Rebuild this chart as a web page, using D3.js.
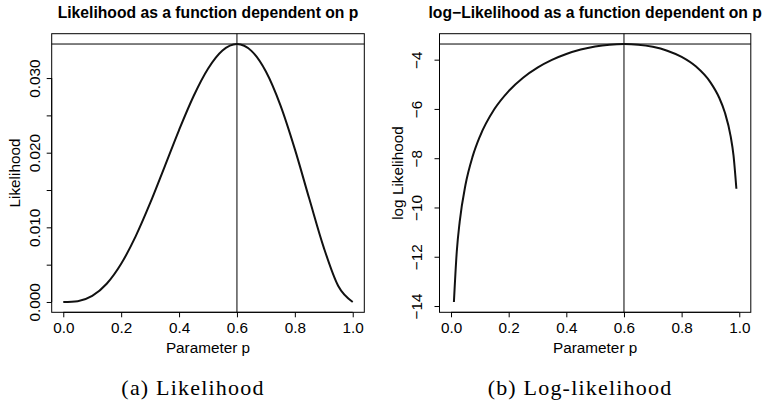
<!DOCTYPE html>
<html>
<head>
<meta charset="utf-8">
<script src="https://cdn.jsdelivr.net/npm/d3@7"></script>
<style>
  html, body { margin: 0; padding: 0; background: #fff; }
  svg { display: block; }
  .sans { font-family: "Liberation Sans", Arial, Helvetica, sans-serif; }
</style>
</head>
<body>
<svg id="chart" width="763" height="406"></svg>
<script>
// ---- data ----
const pLik = [0, 0.05, 0.1, 0.15, 0.2, 0.25, 0.3, 0.35, 0.4, 0.45, 0.5, 0.55, 0.6, 0.65, 0.7, 0.75, 0.8, 0.85, 0.9, 0.95, 1.0];
const likValues = [0, 0.000113, 0.00081, 0.002438, 0.00512, 0.008789, 0.01323, 0.018115, 0.02304, 0.027565, 0.03125, 0.033691, 0.03456, 0.033642, 0.03087, 0.026367, 0.02048, 0.013818, 0.00729, 0.002143, 0];

const pLog = [0.01, 0.02, 0.03, 0.05, 0.075, 0.1, 0.15, 0.2, 0.25, 0.3, 0.35, 0.4, 0.45, 0.5, 0.55, 0.6, 0.65, 0.7, 0.75, 0.8, 0.85, 0.9, 0.93, 0.95, 0.97, 0.98, 0.99];
const logLikValues = [-13.836, -11.777, -10.581, -9.090, -7.927, -7.119, -6.016, -5.275, -4.734, -4.325, -4.011, -3.771, -3.591, -3.466, -3.391, -3.365, -3.392, -3.478, -3.636, -3.888, -4.282, -4.921, -5.536, -6.145, -7.105, -7.885, -9.241];

const xTicks = [0, 0.2, 0.4, 0.6, 0.8, 1.0];
const likTicks = [0, 0.005, 0.01, 0.015, 0.02, 0.025, 0.03];
const likTickLabels = ["0.000", "", "0.010", "", "0.020", "", "0.030"];
const logTicks = [-14, -12, -10, -8, -6, -4];
const logTickLabels = ["\u221214", "\u221212", "\u221210", "\u22128", "\u22126", "\u22124"];

const mlePosition = 0.6;
const titles = ["Likelihood as a function dependent on p", "log\u2212Likelihood as a function dependent on p"];
const yTitles = ["Likelihood", "log Likelihood"];
const xTitle = "Parameter p";
const captions = ["(a) Likelihood", "(b) Log-likelihood"];

// ---- drawing ----
const svg = d3.select("#chart");
const pad = ([a, b]) => { const d = (b - a) * 0.04; return [a - d, b + d]; };

const panels = [
  { px: pLik, py: likValues, ticks: likTicks, labels: likTickLabels,
    x0: 51.7, x1: 364.3, tickLabelX: 40, yTitleX: 19.5, title: titles[0], ytitle: yTitles[0], caption: captions[0], capX: 193 },
  { px: pLog, py: logLikValues, ticks: logTicks, labels: logTickLabels,
    x0: 439.5, x1: 750.8, tickLabelX: 421.5, yTitleX: 403, title: titles[1], ytitle: yTitles[1], caption: captions[1], capX: 580 }
];

const yTop = 33.7, yBot = 312.3;

panels.forEach(P => {
  const g = svg.append("g").attr("class", "sans");
  const x = d3.scaleLinear().domain(pad([0, 1])).range([P.x0, P.x1]);
  const y = d3.scaleLinear().domain(pad(d3.extent(P.py))).range([yBot, yTop]);

  // bottom axis
  const xAxis = d3.axisBottom(x).tickValues(xTicks).tickSize(5).tickPadding(4)
    .tickFormat(d3.format(".1f"));
  const gx = g.append("g").attr("transform", `translate(0,${yBot})`).call(xAxis);
  gx.select(".domain").remove();
  gx.append("line").attr("x1", x(0)).attr("x2", x(1)).attr("stroke", "#000");
  gx.selectAll(".tick line").attr("stroke", "#000");
  gx.selectAll(".tick text").attr("font-size", 15.3).attr("fill", "#000")
    .attr("y", null).attr("dy", null).attr("y", 21);

  // left axis (ticks with rotated labels)
  const yAxis = d3.axisLeft(y).tickValues(P.ticks).tickSize(5).tickFormat((d, i) => P.labels[i]);
  const gy = g.append("g").attr("transform", `translate(${P.x0},0)`).call(yAxis);
  gy.select(".domain").remove();
  gy.append("line").attr("y1", y(P.ticks[0])).attr("y2", y(P.ticks[P.ticks.length - 1])).attr("stroke", "#000");
  gy.selectAll(".tick line").attr("stroke", "#000");
  gy.selectAll(".tick text")
    .attr("x", null).attr("dy", null)
    .attr("font-size", 15.3).attr("fill", "#000")
    .attr("text-anchor", "middle")
    .attr("transform", `translate(${P.tickLabelX - P.x0},0) rotate(-90)`);

  // box
  g.append("rect").attr("x", P.x0).attr("y", yTop)
    .attr("width", P.x1 - P.x0).attr("height", yBot - yTop)
    .attr("fill", "none").attr("stroke", "#000").attr("stroke-width", 1);

  // reference lines at maximum
  const ymax = d3.max(P.py);
  g.append("line").attr("x1", P.x0).attr("x2", P.x1).attr("y1", y(ymax)).attr("y2", y(ymax))
    .attr("stroke", "#000").attr("stroke-width", 1);
  g.append("line").attr("x1", x(mlePosition)).attr("x2", x(mlePosition)).attr("y1", yTop).attr("y2", yBot)
    .attr("stroke", "#000").attr("stroke-width", 1);

  // curve
  const line = d3.line().x(d => x(d[0])).y(d => y(d[1])).curve(d3.curveMonotoneX);
  g.append("path").datum(d3.zip(P.px, P.py)).attr("d", line)
    .attr("fill", "none").attr("stroke", "#111").attr("stroke-width", 2);

  // titles
  g.append("text").attr("x", (P.x0 + P.x1) / 2).attr("y", 18.3)
    .attr("text-anchor", "middle").attr("font-weight", "bold").attr("font-size", 15.7)
    .text(P.title);
  g.append("text").attr("x", (P.x0 + P.x1) / 2).attr("y", 353)
    .attr("text-anchor", "middle").attr("font-size", 15.3).text(xTitle);
  g.append("text").attr("transform", `translate(${P.yTitleX},${(yTop + yBot) / 2}) rotate(-90)`)
    .attr("text-anchor", "middle").attr("font-size", 15.3).text(P.ytitle);

  // caption
  svg.append("text").attr("x", P.capX).attr("y", 395).attr("text-anchor", "middle")
    .attr("font-family", "'Liberation Serif', 'Times New Roman', serif")
    .attr("font-size", 22).attr("letter-spacing", 1.2).attr("fill", "#000")
    .text(P.caption);
});
</script>
</body>
</html>
